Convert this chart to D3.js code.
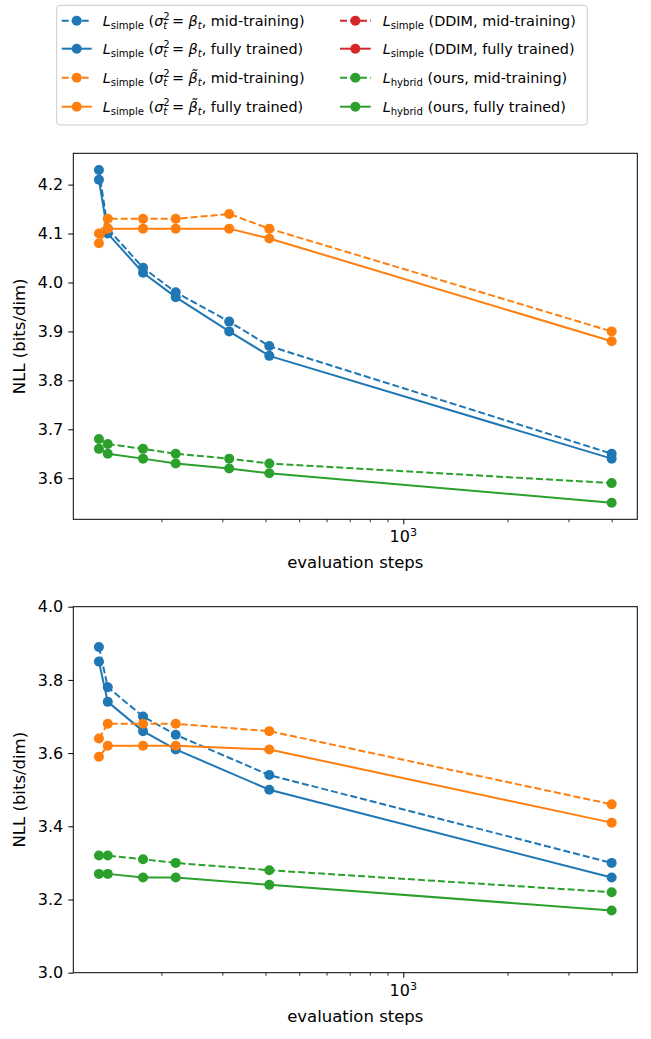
<!DOCTYPE html>
<html><head><meta charset="utf-8">
<script src="https://cdn.jsdelivr.net/npm/d3@7"></script>
<style>body{margin:0;background:#fff} text{font-family:"DejaVu Sans",sans-serif;fill:#000}</style>
</head><body><svg id="c" width="651" height="1039"></svg>
<script>
// ---------- data ----------
const xTop = [132, 140, 177, 220, 314, 410, 4000];
const xBottom = [132, 140, 177, 220, 410, 4000];

const blueMidTop   = [4.23, 4.11, 4.03, 3.98, 3.92, 3.87, 3.65];
const blueFullTop  = [4.21, 4.10, 4.02, 3.97, 3.90, 3.85, 3.64];
const orangeMidTop = [4.10, 4.13, 4.13, 4.13, 4.14, 4.11, 3.90];
const orangeFullTop= [4.08, 4.11, 4.11, 4.11, 4.11, 4.09, 3.88];
const redMidTop    = [];
const redFullTop   = [];
const greenMidTop  = [3.68, 3.67, 3.66, 3.65, 3.64, 3.63, 3.59];
const greenFullTop = [3.66, 3.65, 3.64, 3.63, 3.62, 3.61, 3.55];

const blueMidBottom   = [3.89, 3.78, 3.70, 3.65, 3.54, 3.30];
const blueFullBottom  = [3.85, 3.74, 3.66, 3.61, 3.50, 3.26];
const orangeMidBottom = [3.64, 3.68, 3.68, 3.68, 3.66, 3.46];
const orangeFullBottom= [3.59, 3.62, 3.62, 3.62, 3.61, 3.41];
const redMidBottom    = [];
const redFullBottom   = [];
const greenMidBottom  = [3.32, 3.32, 3.31, 3.30, 3.28, 3.22];
const greenFullBottom = [3.27, 3.27, 3.26, 3.26, 3.24, 3.17];

const yTicksTop = [3.6, 3.7, 3.8, 3.9, 4.0, 4.1, 4.2];
const yTicksBottom = [3.0, 3.2, 3.4, 3.6, 3.8, 4.0];
const yDomainBottom = [3.0, 4.0];
const xMajorTicks = [1000];
const xMinorTicks = [200, 300, 400, 500, 600, 700, 800, 900, 2000, 3000, 4000];
const xLabel = "evaluation steps";
const yLabel = "NLL (bits/dim)";

const seriesNames = ["blueMid","blueFull","orangeMid","orangeFull","redMid","redFull","greenMid","greenFull"];
const seriesColors = ["#1f77b4","#1f77b4","#ff7f0e","#ff7f0e","#d62728","#d62728","#2ca02c","#2ca02c"];
const seriesDashed = [true,false,true,false,true,false,true,false];
const topValues = [blueMidTop,blueFullTop,orangeMidTop,orangeFullTop,redMidTop,redFullTop,greenMidTop,greenFullTop];
const bottomValues = [blueMidBottom,blueFullBottom,orangeMidBottom,orangeFullBottom,redMidBottom,redFullBottom,greenMidBottom,greenFullBottom];

// legend label pieces: [text, style]
const legendLabels = [
  [["L","i"],["simple","sub"],[" ("],["σ","i"],["2","sup"],["t","subback"],[" = "],["β","i"],["t","subi"],[", mid-training)"]],
  [["L","i"],["simple","sub"],[" ("],["σ","i"],["2","sup"],["t","subback"],[" = "],["β","i"],["t","subi"],[", fully trained)"]],
  [["L","i"],["simple","sub"],[" ("],["σ","i"],["2","sup"],["t","subback"],[" = "],["β\u0303","i"],["t","subi"],[", mid-training)"]],
  [["L","i"],["simple","sub"],[" ("],["σ","i"],["2","sup"],["t","subback"],[" = "],["β\u0303","i"],["t","subi"],[", fully trained)"]],
  [["L","i"],["simple","sub"],[" (DDIM, mid-training)"]],
  [["L","i"],["simple","sub"],[" (DDIM, fully trained)"]],
  [["L","i"],["hybrid","sub"],[" (ours, mid-training)"]],
  [["L","i"],["hybrid","sub"],[" (ours, fully trained)"]]
];

// ---------- layout ----------
const svg = d3.select("#c");
const AX = {left:73.3, right:637.3};
const panels = [
  {top:153.3, bottom:519.3, xs:xTop, vals:topValues, ticks:yTicksTop, dom:null},
  {top:606.7, bottom:972.7, xs:xBottom, vals:bottomValues, ticks:yTicksBottom, dom:yDomainBottom}
];
const FS_TICK = 16, FS_LAB = 16.5, FS_LEG = 14.4;
const LW = 2, MR = 5;
const DASH = "7,3";

function marginDomain(lo, hi){ const m=(hi-lo)*0.05; return [lo-m, hi+m]; }

panels.forEach(p=>{
  const allX = p.xs;
  const lx = marginDomain(Math.log10(d3.min(allX)), Math.log10(d3.max(allX)));
  const x = d3.scaleLog().domain([10**lx[0], 10**lx[1]]).range([AX.left, AX.right]);
  let ydom = p.dom;
  if(!ydom){
    const all = p.vals.flat();
    ydom = marginDomain(d3.min(all), d3.max(all));
  }
  const y = d3.scaleLinear().domain(ydom).range([p.bottom, p.top]);
  const g = svg.append("g");

  // y axis
  const ya = g.append("g").attr("transform",`translate(${AX.left},0)`)
    .call(d3.axisLeft(y).tickValues(p.ticks).tickFormat(d3.format(".1f")).tickSize(5).tickPadding(5));
  ya.select(".domain").remove();
  ya.selectAll("line").attr("stroke","#000").attr("stroke-width",1);
  ya.selectAll("text").attr("font-size",FS_TICK).attr("font-family","DejaVu Sans").attr("fill","#000");

  // x axis minor
  const xm = g.append("g").attr("transform",`translate(0,${p.bottom})`)
    .call(d3.axisBottom(x).tickValues(xMinorTicks).tickFormat("").tickSize(3));
  xm.select(".domain").remove();
  xm.selectAll("line").attr("stroke","#000").attr("stroke-width",0.8);
  // x axis major
  const xM = g.append("g").attr("transform",`translate(0,${p.bottom})`)
    .call(d3.axisBottom(x).tickValues(xMajorTicks).tickFormat("").tickSize(5));
  xM.select(".domain").remove();
  xM.selectAll("line").attr("stroke","#000").attr("stroke-width",1);
  xMajorTicks.forEach(v=>{
    const t = g.append("text").attr("x",x(v)).attr("y",p.bottom+23).attr("text-anchor","middle").attr("font-size",FS_TICK);
    const e = Math.round(Math.log10(v));
    t.append("tspan").text("10");
    t.append("tspan").attr("dy",-6).attr("font-size",FS_TICK*0.7).text(String(e));
  });

  // labels
  g.append("text").attr("x",(AX.left+AX.right)/2).attr("y",p.bottom+49).attr("text-anchor","middle")
    .attr("font-size",FS_LAB).text(xLabel);
  g.append("text").attr("transform",`translate(25,${(p.top+p.bottom)/2}) rotate(-90)`).attr("text-anchor","middle")
    .attr("font-size",FS_LAB).text(yLabel);

  // series
  const clipId = "clip"+p.top;
  svg.append("clipPath").attr("id",clipId).append("rect")
    .attr("x",AX.left).attr("y",p.top).attr("width",AX.right-AX.left).attr("height",p.bottom-p.top);
  const sg = g.append("g");
  const line = d3.line().x(d=>x(d[0])).y(d=>y(d[1]));
  seriesNames.forEach((nm,i)=>{
    const pts = p.vals[i].map((v,j)=>[p.xs[j],v]);
    if(!pts.length) return;
    sg.append("path").attr("d",line(pts)).attr("fill","none").attr("stroke",seriesColors[i])
      .attr("stroke-width",LW).attr("stroke-dasharray",seriesDashed[i]?DASH:null);
    sg.selectAll(null).data(pts).enter().append("circle")
      .attr("cx",d=>x(d[0])).attr("cy",d=>y(d[1])).attr("r",MR).attr("fill",seriesColors[i]);
  });

  // frame
  g.append("rect").attr("x",AX.left).attr("y",p.top).attr("width",AX.right-AX.left).attr("height",p.bottom-p.top)
    .attr("fill","none").attr("stroke","#000").attr("stroke-width",1);
});

// ---------- legend ----------
const leg = svg.append("g");
leg.append("rect").attr("x",56.7).attr("y",5.3).attr("width",530.6).attr("height",119.7).attr("rx",3)
  .attr("fill","#fff").attr("fill-opacity",0.8).attr("stroke","#cccccc").attr("stroke-width",1);
const rowY = [20.7, 48.7, 77.7, 106.7];
const cols = [{x0:61.7,x1:91.7,tx:102.7},{x0:340,x1:370.7,tx:382.7}];
legendLabels.forEach((parts,i)=>{
  const c = cols[Math.floor(i/4)], yy = rowY[i%4];
  leg.append("line").attr("x1",c.x0).attr("x2",c.x1).attr("y1",yy).attr("y2",yy)
    .attr("stroke",seriesColors[i]).attr("stroke-width",LW).attr("stroke-dasharray",seriesDashed[i]?DASH:null);
  leg.append("circle").attr("cx",(c.x0+c.x1)/2).attr("cy",yy).attr("r",MR).attr("fill",seriesColors[i]);
  const t = leg.append("text").attr("x",c.tx).attr("y",yy+5).attr("font-size",FS_LEG);
  let cur = 0;
  parts.forEach(([txt,st])=>{
    const ts = t.append("tspan").text(txt);
    let target = 0;
    if(st==="i"){ ts.attr("font-style","italic"); }
    else if(st==="sub"){ target = 3.5; ts.attr("font-size",FS_LEG*0.7); }
    else if(st==="subi"){ target = 3.5; ts.attr("font-size",FS_LEG*0.7).attr("font-style","italic"); }
    else if(st==="sup"){ target = -6; ts.attr("font-size",FS_LEG*0.7); }
    else if(st==="subback"){ target = 3.5; ts.attr("font-size",FS_LEG*0.7).attr("font-style","italic").attr("dx",-6.4); }
    if(target!==cur){ ts.attr("dy",target-cur); cur=target; }
  });
});
</script></body></html>
